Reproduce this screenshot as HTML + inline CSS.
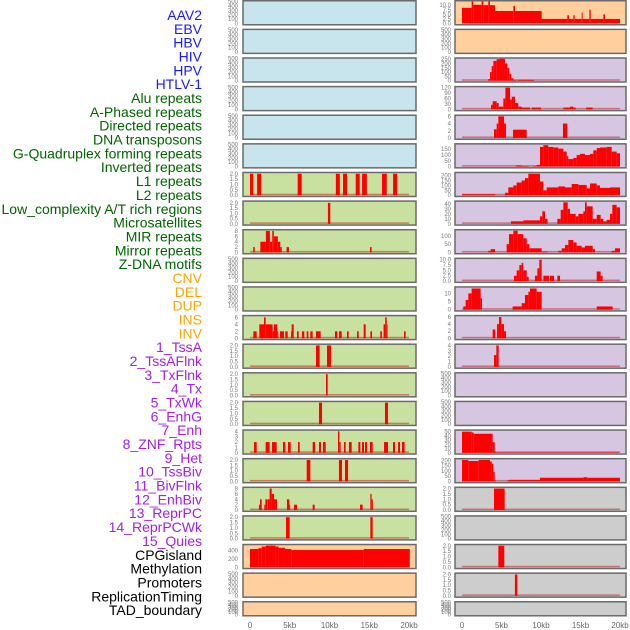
<!DOCTYPE html>
<html><head><meta charset="utf-8"><style>
html,body{margin:0;padding:0;background:#fff;}
svg{display:block;font-family:"Liberation Sans",sans-serif;}
</style></head><body>
<svg id="chart" width="630" height="630" viewBox="0 0 630 630" xmlns="http://www.w3.org/2000/svg"></svg>
<script>
const labels = ["AAV2","EBV","HBV","HIV","HPV","HTLV-1","Alu repeats","A-Phased repeats","Directed repeats","DNA transposons","G-Quadruplex forming repeats","Inverted repeats","L1 repeats","L2 repeats","Low_complexity A/T rich regions","Microsatellites","MIR repeats","Mirror repeats","Z-DNA motifs","CNV","DEL","DUP","INS","INV","1_TssA","2_TssAFlnk","3_TxFlnk","4_Tx","5_TxWk","6_EnhG","7_Enh","8_ZNF_Rpts","9_Het","10_TssBiv","11_BivFlnk","12_EnhBiv","13_ReprPC","14_ReprPCWk","15_Quies","CPGisland","Methylation","Promoters","ReplicationTiming","TAD_boundary"];
const labelGroups = [6,13,5,15,5];
const groupColors = ["#1a1aff","#006400","#ffa500","#a020f0","#000000"];
const xTickValues = [0,5,10,15,20];
const xTickLabels = ["0","5kb","10kb","15kb","20kb"];

const emptyTicks = ["0","100","200","300","400","500"];
const ticks2 = ["0.0","0.5","1.0","1.5","2.0"];
// left column series (kb start, kb end, value)
const L7 = [[0,0.4,2],[0.9,1.4,2],[6.0,6.5,2],[10.8,11.3,2],[11.7,12.2,2],[13.3,13.8,2],[14.1,14.7,2],[16.6,17.2,2],[18.0,18.5,2]];
const L8 = [[9.8,10.1,2]];
const L9 = [[0.4,0.6,2],[1.3,2.0,4],[2.0,2.5,8],[2.5,2.8,4],[2.8,3.0,8],[3.0,3.5,6],[3.5,3.8,4],[3.8,4.0,2],[4.6,4.9,2],[15.1,15.3,2]];
const L12 = [[0.42,0.84,2],[1.17,1.76,4],[1.76,1.97,6],[1.97,2.85,4],[2.85,3.02,2],[3.02,3.44,4],[3.44,3.56,2],[3.77,4.28,2],[4.44,4.74,2],[5.16,5.24,2],[5.24,5.5,4],[5.91,6.12,2],[6.54,6.83,2],[7.13,7.34,2],[7.59,7.88,2],[8.3,8.89,2],[10.69,10.99,2],[11.19,11.53,2],[12.2,12.41,2],[13.46,13.67,2],[14.3,14.55,4],[15.14,15.35,2],[16.39,16.6,2],[16.8,17.0,4],[17.0,17.2,6],[17.2,17.3,4],[19.37,19.58,2]];
const L13 = [[8.3,8.76,2],[9.69,10.19,2]];
const L14 = [[9.56,9.77,2]];
const L15 = [[8.68,9.06,2],[16.98,17.36,2]];
const L16 = [[0.5,0.84,2],[1.97,2.47,2],[2.77,3.35,2],[4.15,4.44,2],[4.78,5.12,2],[6.04,6.25,2],[7.88,8.18,2],[8.68,8.93,2],[9.18,9.52,2],[11.07,11.24,4],[11.24,11.4,2],[11.82,12.03,2],[12.45,12.79,2],[13.63,13.88,2],[14.09,14.34,2],[14.47,14.72,2],[15.09,15.43,2],[16.86,17.36,2],[17.99,18.24,2],[18.62,18.87,2],[19.12,19.45,2]];
const L17 = [[7.13,7.59,2],[11.19,11.57,2],[11.95,12.33,2]];
const L18 = [[1.13,1.26,2],[1.26,1.47,4],[1.80,1.93,2],[1.93,2.14,4],[2.18,2.47,4],[2.47,2.73,8],[2.73,3.02,6],[3.02,3.40,4],[4.65,4.95,4],[4.95,5.03,2],[5.53,5.91,2],[7.88,8.13,2],[13.84,14.17,2],[15.14,15.3,6],[15.3,15.45,4]];
const L19 = [[4.53,4.99,2],[15.14,15.43,2]];
const L20 = [[0,1.05,440],[1.05,1.47,460],[1.47,2.0,500],[2.0,3.2,520],[3.2,3.6,500],[3.6,4.4,470],[4.4,5.2,440],[5.2,14.3,415],[14.3,20.1,440]];
// right column series
const R1 = [[0,1.22,8.5],[1.22,1.43,12],[1.43,2.49,10.2],[2.49,2.7,12],[2.7,3.33,10],[3.33,3.54,12],[3.54,4.18,10],[4.18,6.5,6.8],[6.5,6.71,9.5],[6.71,10.08,6.8],[10.08,13.33,2.5],[13.33,13.54,4.5],[13.54,14.09,2.5],[14.09,14.26,4.5],[14.26,15.15,2.5],[15.15,15.27,6],[15.27,16.12,2.5],[16.12,16.29,7.5],[16.29,17.89,2.5],[17.89,18.1,5],[18.1,20,2.5]];
const R3 = [[3.33,3.54,20],[3.54,3.76,100],[3.76,3.97,170],[3.97,4.39,230],[4.39,4.81,250],[4.81,5.44,255],[5.44,5.74,200],[5.74,5.99,150],[5.99,6.24,80],[6.24,6.5,30],[6.5,6.84,10],[7.0,9.11,10]];
const R4 = [[3.67,3.88,25],[3.88,4.39,45],[4.39,4.64,35],[4.64,5.23,15],[5.23,5.49,60],[5.49,6.08,120],[6.08,6.29,55],[6.29,6.71,70],[6.71,7.13,35],[7.13,7.55,15],[7.55,8.61,10],[8.82,10.0,10],[12.83,13.67,10],[13.67,14.09,15],[14.09,14.39,10],[15.7,16.54,10]];
const R5 = [[4.05,4.39,2.4],[4.39,4.6,4],[4.6,5.32,6],[5.32,5.57,4],[6.46,8.19,2.3],[12.78,13.33,4]];
const R6 = [[6.84,7.55,10],[7.55,8.44,5],[9.03,9.45,5],[9.45,9.87,15],[9.87,10.3,170],[10.3,10.93,185],[10.93,11.56,170],[11.56,12.19,165],[12.19,12.83,155],[12.83,13.25,130],[13.25,13.46,90],[13.46,14.09,65],[14.09,14.51,75],[14.51,14.94,100],[14.94,15.57,110],[15.57,16.2,100],[16.2,16.62,110],[16.62,17.05,140],[17.05,17.47,160],[17.47,18.31,165],[18.31,18.95,170],[18.95,19.58,130],[19.58,20,115]];
const R7 = [[0,4.18,10],[5.44,5.86,25],[5.86,6.5,80],[6.5,6.92,100],[6.92,7.55,130],[7.55,7.97,150],[7.97,8.4,175],[8.4,9.87,220],[9.87,10.3,140],[10.3,10.72,50],[10.72,12.19,80],[12.19,13.04,90],[13.04,13.88,80],[13.88,14.73,115],[14.73,15.78,105],[15.78,16.2,70],[16.2,17.05,120],[17.05,17.47,100],[17.47,18.73,75],[18.73,20,80]];
const R8 = [[6.2,7.76,5],[7.76,9.87,7],[9.87,10.17,15],[10.17,10.51,25],[10.51,10.84,10],[12.07,12.49,10],[12.49,12.83,28],[12.83,13.38,43],[13.38,13.67,30],[13.67,14.39,20],[14.39,14.73,15],[14.73,15.36,20],[15.36,15.57,25],[15.57,15.78,43],[15.78,16.54,35],[16.54,17.05,10],[17.05,17.55,18],[17.55,17.89,10],[17.89,18.31,5],[18.31,18.73,8],[18.73,19.03,20],[19.03,19.58,38],[19.58,20,33]];
const R9 = [[3.33,3.63,10],[3.63,4.18,20],[5.65,5.95,50],[5.95,6.5,110],[6.5,7.05,130],[7.05,7.76,110],[7.76,8.19,85],[8.19,8.52,50],[8.52,10.08,25],[10.08,10.84,5],[12.19,12.62,10],[12.62,13.04,25],[13.04,13.46,45],[13.46,14.09,75],[14.09,14.51,60],[14.51,15.15,40],[15.15,15.57,30],[15.57,16.54,40],[16.54,16.84,20],[18.95,19.37,10],[19.37,20,25]];
const R10 = [[6.58,6.92,2.5],[6.92,7.26,5],[7.26,7.55,7.5],[7.55,7.76,8.5],[7.76,8.19,5],[8.19,8.44,2],[9.24,9.54,2.5],[9.54,9.79,6],[9.79,10.08,10],[10.3,11.01,2.5],[11.14,11.65,2.5],[12.07,12.41,2.5],[17.05,17.55,4.5],[17.55,17.8,2.5]];
const R11 = [[0.17,0.46,2],[0.46,0.8,6],[0.8,1.22,10],[1.22,2.36,13],[2.36,2.53,7],[6.41,7.55,2],[7.55,7.97,4],[7.97,8.4,9],[8.4,8.61,11],[8.61,9.45,13],[9.45,10.08,11],[17.05,19.07,2]];
const R12 = [[3.88,4.22,2.5],[4.43,4.68,4],[4.68,4.98,6],[4.98,5.32,4],[5.32,5.57,2]];
const R13 = [[4.05,4.35,2.2],[4.35,4.64,4]];
const R16 = [[0,1.22,50],[1.22,1.48,48],[1.48,3.88,45],[3.88,4.14,25],[4.14,4.26,3],[4.26,19.8,1]];
const R17 = [[0,0.8,205],[0.8,2.11,195],[2.11,3.54,205],[3.54,3.76,190],[3.76,3.97,170],[3.97,4.14,90],[4.14,4.26,10],[5.74,5.95,10],[5.95,9.87,15],[9.87,15.36,35],[15.36,15.86,40],[15.86,20,35]];
const R18 = [[4.05,5.4,2]];
const R20 = [[4.6,5.35,2]];
const R21 = [[6.7,7.0,2]];

const C = {blue:"#c8e4ec",green:"#c8e0a0",orange:"#ffd09e",purple:"#d6c6e2",gray:"#cdcdcd"};
// [series, ymax, tick labels, tick values, background]
const leftPanels = [
 [null,500,emptyTicks,null,C.blue],[null,500,emptyTicks,null,C.blue],[null,500,emptyTicks,null,C.blue],
 [null,500,emptyTicks,null,C.blue],[null,500,emptyTicks,null,C.blue],[null,500,emptyTicks,null,C.blue],
 [L7,2.05,ticks2,null,C.green],[L8,2.1,ticks2,null,C.green],[L9,8.2,["0","2","4","6","8"],null,C.green],
 [null,500,emptyTicks,null,C.green],[null,500,emptyTicks,null,C.green],[L12,6.3,["0","2","4","6"],null,C.green],
 [L13,2.05,ticks2,null,C.green],[L14,2.05,ticks2,null,C.green],[L15,2.05,ticks2,null,C.green],
 [L16,4.1,["0","1","2","3","4"],null,C.green],[L17,2.05,ticks2,null,C.green],[L18,8.2,["0","2","4","6","8"],null,C.green],
 [L19,2.05,ticks2,null,C.green],[L20,530,["0","200","400"],null,C.orange],[null,500,emptyTicks,null,C.orange],[null,500,emptyTicks,null,C.orange]
];
const rightPanels = [
 [R1,12,["0.0","2.5","5.0","7.5","10.0"],null,C.orange],[null,500,emptyTicks,null,C.orange],
 [R3,255,["0","50","100","150","200","250"],null,C.purple],[R4,122,["0","30","60","90","120"],null,C.purple],
 [R5,6.1,["0","2","4","6"],null,C.purple],[R6,190,["0","50","100","150"],null,C.purple],
 [R7,225,["0","50","100","150","200"],null,C.purple],[R8,44,["0","10","20","30","40"],null,C.purple],
 [R9,132,["0","50","100"],null,C.purple],[R10,10.3,["0.0","2.5","5.0","7.5","10.0"],null,C.purple],
 [R11,13.5,["0","5","10"],null,C.purple],[R12,6.2,["0","2","4","6"],null,C.purple],
 [R13,4.1,["0","1","2","3","4"],null,C.purple],[null,500,emptyTicks,null,C.purple],[null,500,emptyTicks,null,C.purple],
 [R16,52,["0","10","20","30","40","50"],null,C.purple],[R17,210,["0","50","100","150","200"],null,C.purple],
 [R18,2.05,ticks2,null,C.gray],[null,500,emptyTicks,null,C.gray],[R20,2.05,ticks2,null,C.gray],
 [R21,2.05,ticks2,null,C.gray],[null,500,emptyTicks,null,C.gray]
];

const NS = "http://www.w3.org/2000/svg";
const svg = document.getElementById("chart");
function mk(tag, attrs, parent){const e=document.createElementNS(NS,tag);for(const k in attrs)e.setAttribute(k,attrs[k]);(parent||svg).appendChild(e);return e;}

// labels
let li=0;
labelGroups.forEach((n,g)=>{for(let j=0;j<n;j++){const t=mk("text",{x:202,y:20+li*13.84,"text-anchor":"end","font-size":"14",fill:groupColors[g]});t.textContent=labels[li];


li++;}});

const cols=[{panels:leftPanels,px:243,pw:173,x0:250,x20:409,tx:238,name:"left"},{panels:rightPanels,px:455,pw:171,x0:462,x20:620,tx:451,name:"right"}];
cols.forEach(col=>{
 const xs=kb=>col.x0+(col.x20-col.x0)*kb/20;
 col.panels.forEach((p,i)=>{
  const [series,ymax,tl,tv,bg]=p;
  const top=i*28.62, h=(i===21)?15:25;
  const g=mk("g",{});
  
  
  mk("rect",{x:col.px,y:top+0.75,width:col.pw,height:h-1,fill:bg,stroke:"#6a6a6a","stroke-width":"1.5"},g);
  const yb=top+h-1.5, yt=top+1.5;
  const ys=v=>yb-(yb-yt)*v/ymax;
  const n=tl.length;
  tl.forEach((lab,k)=>{
   const v=(series? parseFloat(lab): k*100);
   const t=mk("text",{x:col.tx,y:ys(v)+2,"text-anchor":"end","font-size":"6",fill:"#777"},g);
   t.textContent=lab;
   
   
  });
  if(series){
   const bl=mk("rect",{x:xs(0),y:yb-1.5,width:xs(20)-xs(0),height:1.5,fill:"rgba(190,0,0,0.45)"},g);
   
   
   series.forEach(s=>{
    const r=mk("rect",{x:xs(s[0]),y:ys(s[2]),width:Math.max(0.8,xs(s[1])-xs(s[0])),height:yb-ys(s[2]),fill:"#ff0000"},g);
    
    
   });
  }
 });
 xTickValues.forEach((v,k)=>{
  const t=mk("text",{x:xs(v),y:628,"text-anchor":"middle","font-size":"8",fill:"#666"});
  t.textContent=xTickLabels[k];
  
  
 });
});
</script>
</body></html>
